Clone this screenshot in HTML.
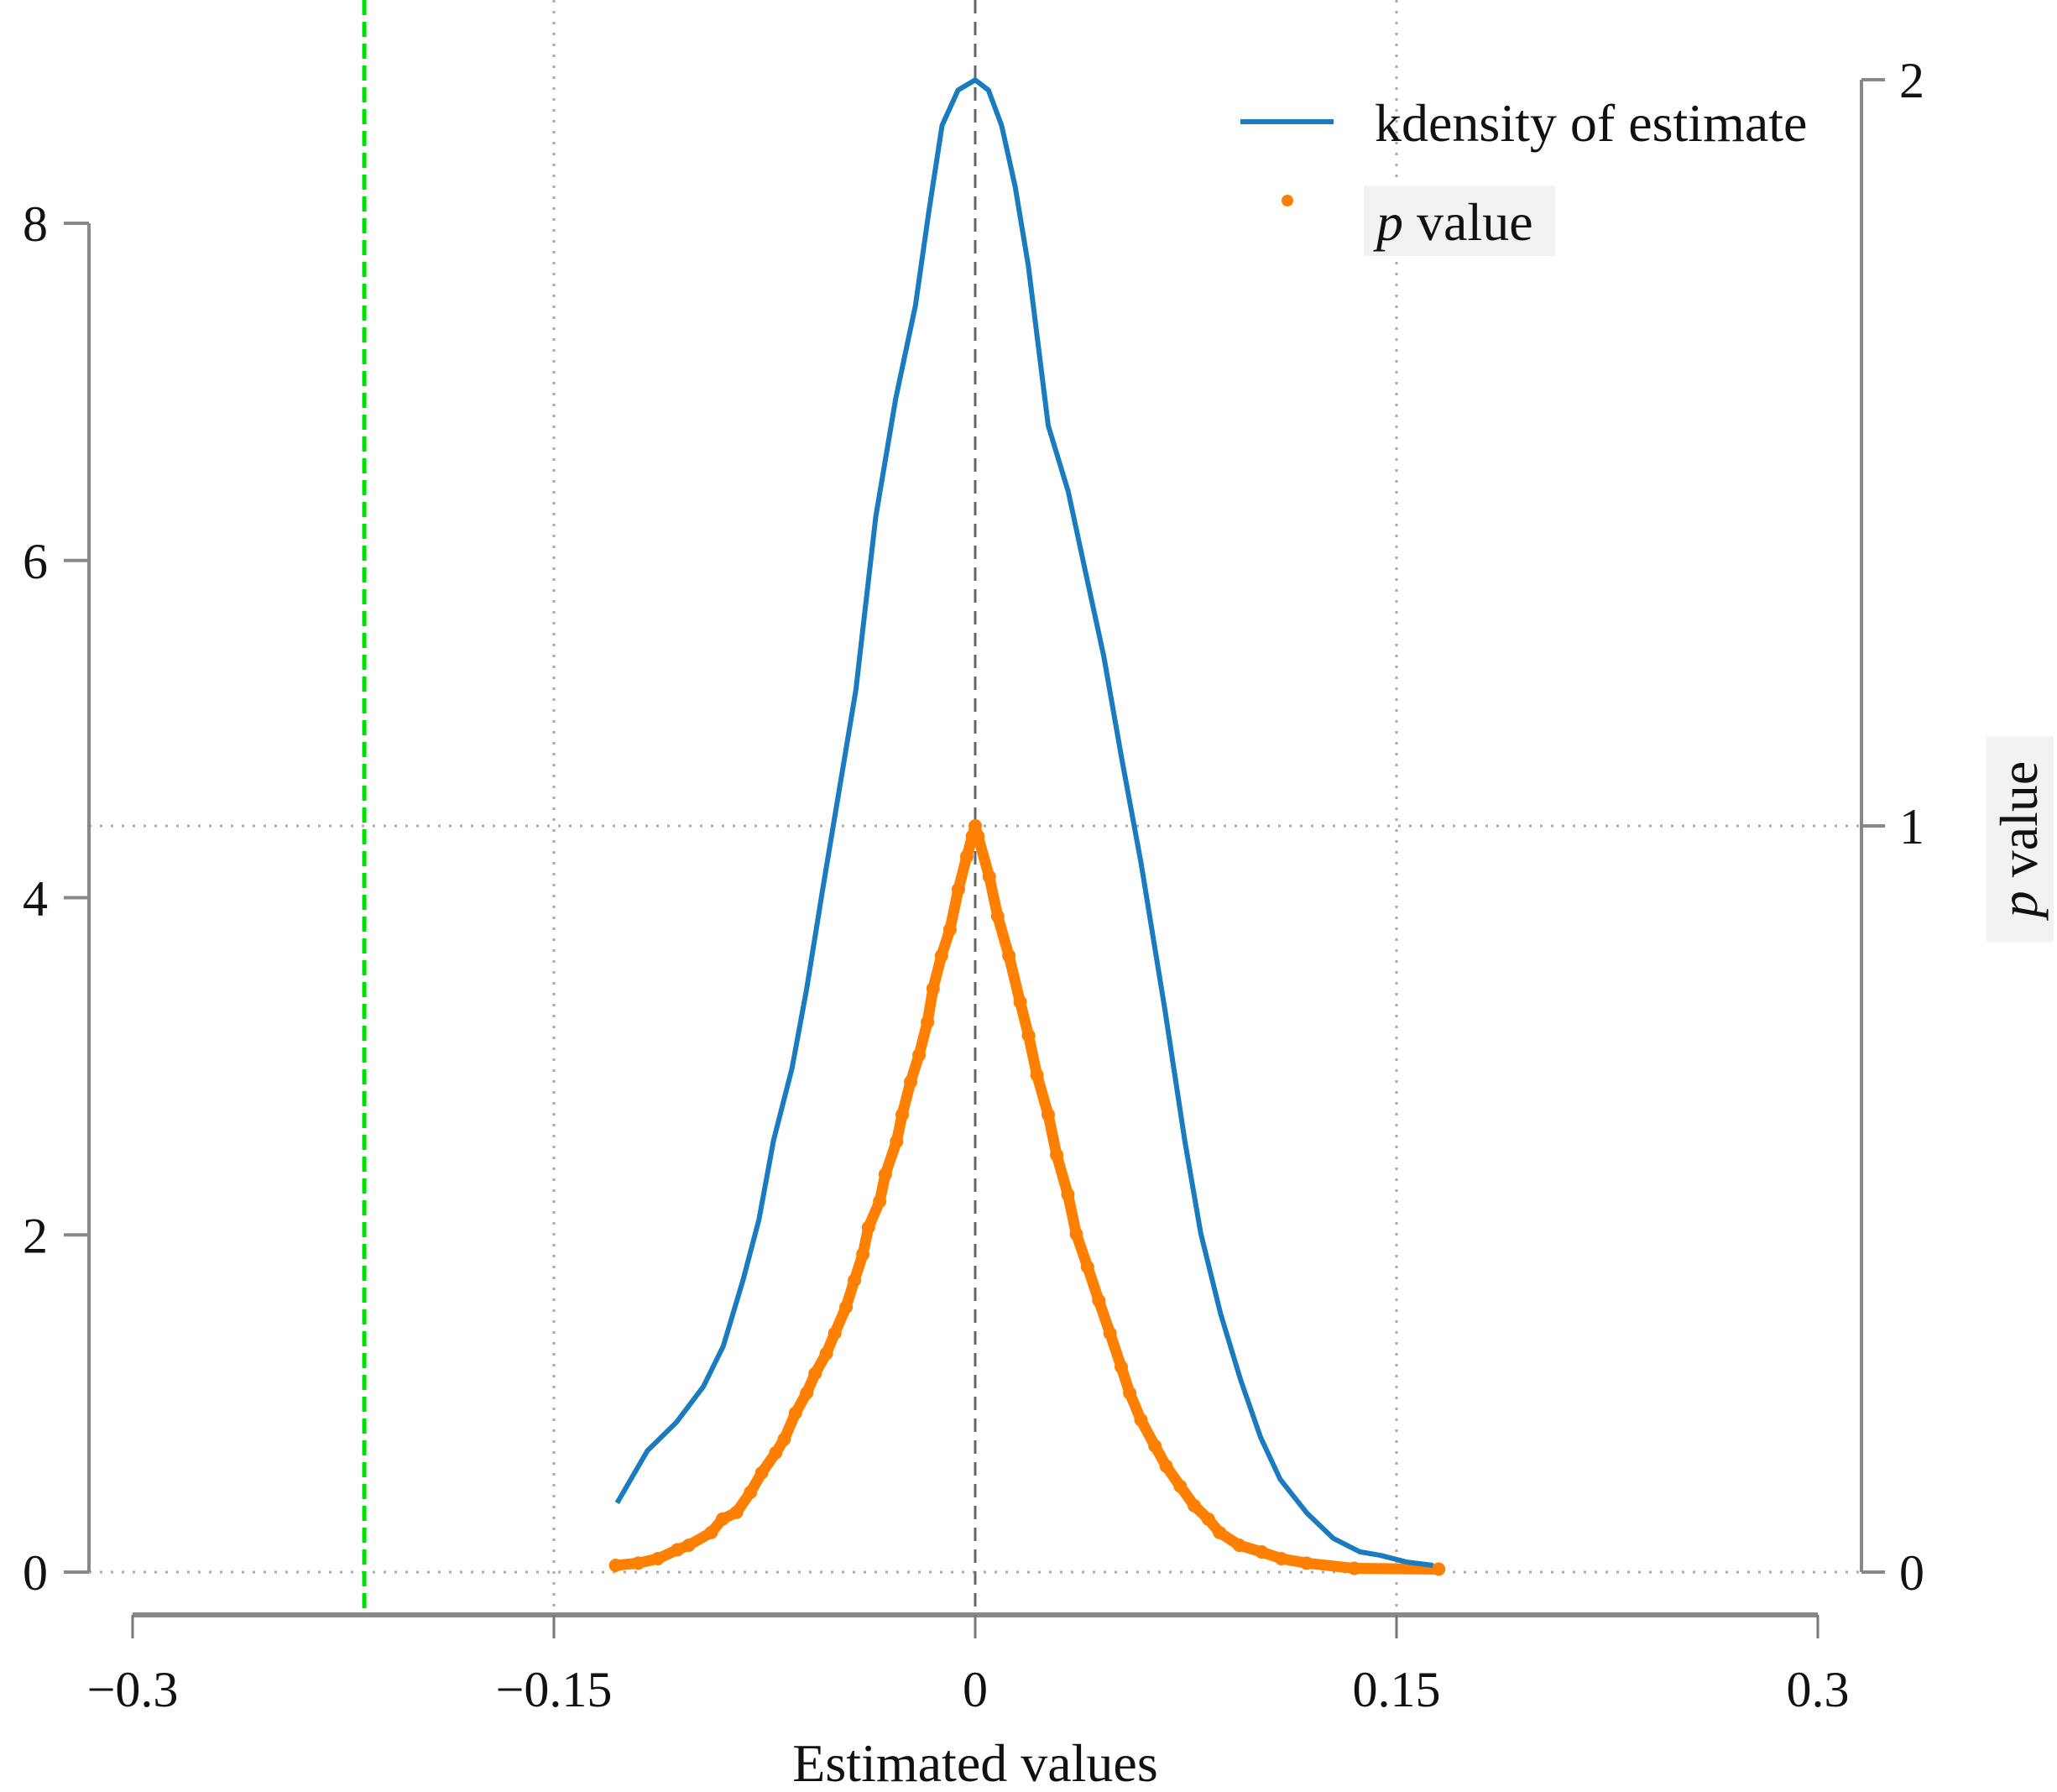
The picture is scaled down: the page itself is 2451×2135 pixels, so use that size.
<!DOCTYPE html>
<html><head><meta charset="utf-8"><style>
html,body{margin:0;padding:0;background:#fff}
svg{display:block;font-family:"Liberation Serif",serif}
</style></head><body>
<svg id="chart" width="2451" height="2135" viewBox="0 0 2451 2135" xmlns="http://www.w3.org/2000/svg">
<g id="grid"></g>
<g id="axes"></g>
<g id="marks"></g>
<g id="legend">
  <line x1="1478" y1="145" x2="1589" y2="145" stroke="#1a7bbf" stroke-width="6"/>
  <text x="1638" y="168" font-size="64" fill="#111">kdensity of estimate</text>
  <circle cx="1534" cy="239" r="7" fill="#ff8000"/>
  <rect x="1625" y="221" width="228" height="84" fill="#f2f2f2"/>
  <text x="1640" y="286" font-size="64" fill="#111"><tspan font-style="italic">p</tspan> value</text>
</g>
<g>
  <rect x="2367" y="877" width="80" height="245" fill="#f2f2f2"/>
  <text x="2427" y="1000" font-size="64" fill="#111" text-anchor="middle" transform="rotate(-90 2427 1000)"><tspan font-style="italic">p</tspan> value</text>
</g>
<text x="1162" y="2122" font-size="64" fill="#111" text-anchor="middle">Estimated values</text>
</svg>
<script>
const densX=[-0.1275,-0.1167,-0.1063,-0.0968,-0.0897,-0.0827,-0.077,-0.0718,-0.0652,-0.06,-0.0543,-0.0496,-0.0425,-0.0354,-0.0283,-0.0213,-0.0165,-0.0118,-0.0061,0,0.0047,0.0094,0.0142,0.0189,0.026,0.0331,0.0402,0.0458,0.052,0.059,0.0675,0.0746,0.0803,0.0874,0.0945,0.1016,0.1086,0.1181,0.1275,0.137,0.1441,0.1535,0.163];
const densY=[0.41,0.72,0.89,1.10,1.34,1.73,2.09,2.56,2.99,3.46,4.05,4.52,5.23,6.26,6.96,7.51,8.07,8.58,8.79,8.85,8.79,8.58,8.22,7.75,6.80,6.41,5.86,5.43,4.84,4.21,3.34,2.56,2.01,1.53,1.14,0.80,0.55,0.35,0.20,0.12,0.10,0.06,0.04];
const pX=[-0.128,-0.120,-0.113,-0.106,-0.102,-0.094,-0.090,-0.085,-0.080,-0.076,-0.071,-0.068,-0.064,-0.060,-0.057,-0.053,-0.050,-0.046,-0.043,-0.040,-0.038,-0.034,-0.032,-0.028,-0.026,-0.023,-0.020,-0.017,-0.015,-0.012,-0.009,-0.006,-0.003,-0.001,0,0.001,0.005,0.008,0.012,0.016,0.019,0.022,0.026,0.029,0.033,0.036,0.040,0.044,0.048,0.052,0.055,0.059,0.064,0.068,0.073,0.078,0.083,0.087,0.094,0.102,0.109,0.118,0.135,0.165];
const pY=[0.009,0.012,0.018,0.030,0.036,0.053,0.071,0.080,0.107,0.133,0.160,0.178,0.213,0.240,0.266,0.293,0.320,0.355,0.391,0.426,0.462,0.497,0.533,0.577,0.613,0.657,0.693,0.737,0.782,0.826,0.861,0.915,0.959,0.986,1.0,0.986,0.932,0.879,0.826,0.764,0.719,0.666,0.613,0.559,0.506,0.453,0.409,0.364,0.320,0.275,0.240,0.204,0.169,0.142,0.115,0.089,0.071,0.053,0.036,0.027,0.018,0.012,0.005,0.004];
const xTicks=[-0.3,-0.15,0,0.15,0.3];
const xTickLabels=["\u22120.3","\u22120.15","0","0.15","0.3"];
const yTicks=[0,2,4,6,8];
const y2Ticks=[0,1,2];
const refLine=[-0.2175];

const NS="http://www.w3.org/2000/svg";
const X=v=>1162+v*(2166-158)/0.6;
const Y=v=>1873-v*(1873-266)/8;
const Y2=v=>1873-v*(1873-95)/2;
function mk(p,tag,a){const e=document.createElementNS(NS,tag);for(const k in a)e.setAttribute(k,a[k]);p.appendChild(e);return e;}
const grid=document.getElementById('grid'),axes=document.getElementById('axes'),marks=document.getElementById('marks');

[-0.15,0.15].forEach(v=>{const l=mk(grid,'line',{x1:X(v),x2:X(v),y1:0,y2:1924,stroke:'#aaa','stroke-width':3,'stroke-dasharray':'3 10'});

});
[0,1].forEach(v=>{const l=mk(grid,'line',{x1:106,x2:2218,y1:Y2(v),y2:Y2(v),stroke:'#aaa','stroke-width':3,'stroke-dasharray':'3 10'});

});
const z=mk(grid,'line',{x1:X(0),x2:X(0),y1:0,y2:1924,stroke:'#666','stroke-width':3,'stroke-dasharray':'16 10'});


refLine.forEach(v=>{const g=mk(grid,'line',{x1:X(v),x2:X(v),y1:0,y2:1924,stroke:'#00e000','stroke-width':5,'stroke-dasharray':'18 8'});

});

const xa=mk(axes,'line',{x1:X(-0.3),x2:X(0.3),y1:1924,y2:1924,stroke:'#888','stroke-width':6});


xTicks.forEach((v,i)=>{mk(axes,'line',{x1:X(v),x2:X(v),y1:1924,y2:1952,stroke:'#777','stroke-width':3});
const t=mk(axes,'text',{x:X(v),y:2033,'font-size':60,'text-anchor':'middle',fill:'#111'});t.textContent=xTickLabels[i];

});
const la=mk(axes,'line',{x1:106,x2:106,y1:Y(8),y2:Y(0),stroke:'#888','stroke-width':4});


yTicks.forEach(v=>{mk(axes,'line',{x1:76,x2:106,y1:Y(v),y2:Y(v),stroke:'#888','stroke-width':4});
const t=mk(axes,'text',{x:42,y:Y(v)+21,'font-size':60,'text-anchor':'middle',fill:'#111'});t.textContent=String(v);

});
const ra=mk(axes,'line',{x1:2218,x2:2218,y1:Y2(2),y2:Y2(0),stroke:'#888','stroke-width':4});


y2Ticks.forEach(v=>{mk(axes,'line',{x1:2218,x2:2246,y1:Y2(v),y2:Y2(v),stroke:'#888','stroke-width':4});
const t=mk(axes,'text',{x:2278,y:Y2(v)+21,'font-size':60,'text-anchor':'middle',fill:'#111'});t.textContent=String(v);

});

const band=mk(marks,'polyline',{points:pX.map((v,i)=>X(v)+','+Y2(pY[i])).join(' '),fill:'none',stroke:'#ff8000','stroke-width':13,'stroke-linejoin':'round','stroke-linecap':'round'});


pX.forEach((v,i)=>{const c=mk(marks,'circle',{cx:X(v),cy:Y2(pY[i]),r:8,fill:'#ff8000'});

});
const d=mk(marks,'polyline',{points:densX.map((v,i)=>X(v)+','+Y(densY[i])).join(' '),fill:'none',stroke:'#1a7bbf','stroke-width':6,'stroke-linejoin':'round'});


</script>
</body></html>
